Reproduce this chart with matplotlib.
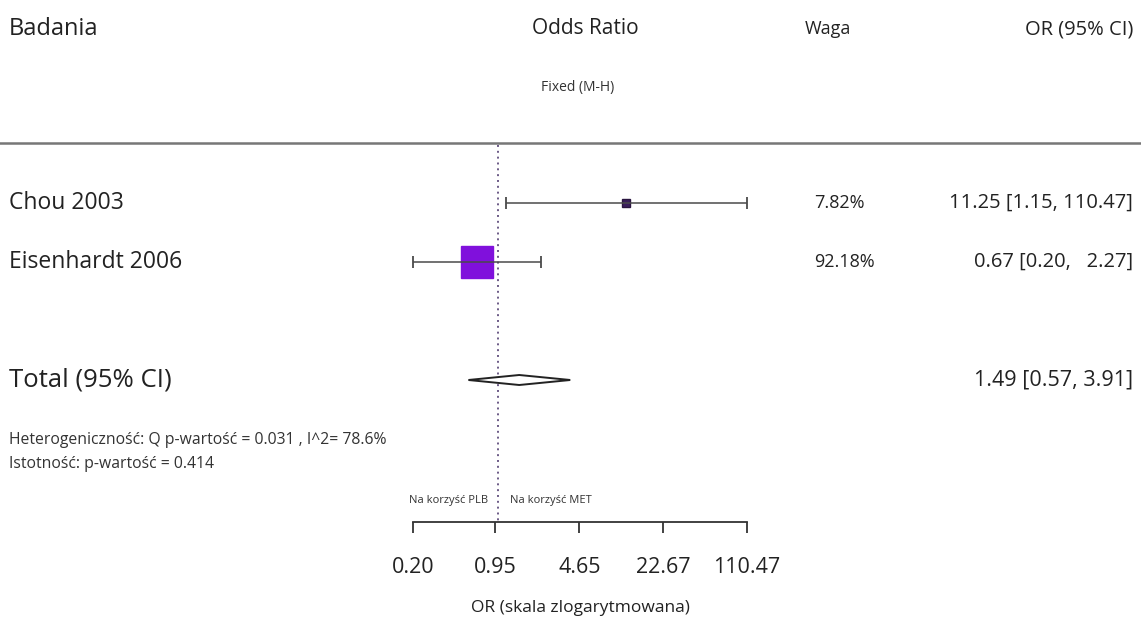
import matplotlib
matplotlib.use("Agg")
import matplotlib.pyplot as plt
from matplotlib.patches import Polygon
from matplotlib.lines import Line2D
from matplotlib.ticker import FixedLocator, NullLocator, FixedFormatter

# ---------------- data ----------------
studies = ["Chou 2003", "Eisenhardt 2006"]
or_vals = [11.25, 0.67]
ci_low = [1.15, 0.20]
ci_high = [110.47, 2.27]
weights = [7.82, 92.18]
or_text = ["11.25 [1.15, 110.47]", "0.67 [0.20,   2.27]"]

total_label = "Total (95% CI)"
total_or = 1.49
total_low = 0.57
total_high = 3.91
total_text = "1.49 [0.57, 3.91]"

tick_vals = [0.20, 0.95, 4.65, 22.67, 110.47]
tick_labels = ["0.20", "0.95", "4.65", "22.67", "110.47"]

heterogeneity = "Heterogeniczność: Q p-wartość = 0.031 , I^2= 78.6%"
significance = "Istotność: p-wartość = 0.414"

# ---------------- layout ----------------
W, H = 1141, 621
plt.rcParams['font.family'] = ['Open Sans', 'DejaVu Sans']
fig = plt.figure(figsize=(W / 100, H / 100), dpi=100)
fig.patch.set_facecolor("white")


def fx(x):
    return x / W


def fy(y):
    return 1 - y / H


TXT = "#222222"
x_left, x_right = 413, 747
ax = fig.add_axes([fx(x_left), 0, fx(x_right - x_left), 1])
ax.set_xscale("log")
ax.set_xlim(tick_vals[0], tick_vals[-1])
ax.set_ylim(H, 0)
ax.axis("off")

row_y = [203, 262]
total_y = 380
rule_y = 143
axis_y = 522
LEFT = 9

# header
fig.text(fx(LEFT), fy(29), "Badania", fontsize=17, color=TXT, va="center", ha="left")
fig.text(fx(585), fy(29), "Odds Ratio", fontsize=15, color=TXT, va="center", ha="center")
fig.text(fx(578), fy(87), "Fixed (M-H)", fontsize=10, color="#333333", va="center", ha="center")
fig.text(fx(828), fy(29), "Waga", fontsize=13, color=TXT, va="center", ha="center")
fig.text(fx(1133), fy(29), "OR (95% CI)", fontsize=14.5, color=TXT, va="center", ha="right")

fig.add_artist(Line2D([fx(0), fx(1141)], [fy(rule_y), fy(rule_y)],
                      transform=fig.transFigure, color="#777777", lw=1.8))

# reference line at OR = 1
ax.plot([1, 1], [rule_y + 2, axis_y], ls=(0, (1, 2)), color="#6b5a86", lw=1.4, zorder=1)

# studies
for i, name in enumerate(studies):
    y = row_y[i]
    size = 23.5 * (weights[i] / max(weights)) ** 0.62
    ax.plot(or_vals[i], y, marker="s", ms=size,
            color="#8010dc" if i else "#3a1d5c",
            mec="#8010dc" if i else "#2a1540",
            zorder=2, clip_on=False)
    ax.errorbar([or_vals[i]], [y], xerr=[[or_vals[i] - ci_low[i]], [ci_high[i] - or_vals[i]]],
                fmt="none", ecolor="#4a4a4a", elinewidth=1.1, capsize=4, capthick=1.3,
                zorder=3, clip_on=False)
    fig.text(fx(LEFT), fy(y), name, fontsize=16.5, color=TXT, va="center", ha="left")
    fig.text(fx(814), fy(y), f"{weights[i]:.2f}%", fontsize=13, color=TXT, va="center", ha="left")
    fig.text(fx(1133), fy(y), or_text[i], fontsize=14.5, color=TXT, va="center", ha="right")

# total diamond
dh = 5
diamond = Polygon([(total_low, total_y), (total_or, total_y - dh), (total_high, total_y),
                   (total_or, total_y + dh)], closed=True, facecolor="white",
                  edgecolor="#222222", lw=1.4, zorder=4)
ax.add_patch(diamond)
fig.text(fx(LEFT), fy(total_y), total_label, fontsize=18.5, color=TXT, va="center", ha="left")
fig.text(fx(1133), fy(total_y), total_text, fontsize=15.5, color=TXT, va="center", ha="right")

fig.text(fx(LEFT), fy(440), heterogeneity, fontsize=11.3, color="#333333", va="center", ha="left")
fig.text(fx(LEFT), fy(464), significance, fontsize=11.3, color="#333333", va="center", ha="left")

fig.text(fx(488), fy(501), "Na korzyść PLB", fontsize=8, color="#333333", va="center", ha="right")
fig.text(fx(510), fy(501), "Na korzyść MET", fontsize=8, color="#333333", va="center", ha="left")

# bottom axis
ax2 = fig.add_axes([fx(x_left), fy(axis_y), fx(x_right - x_left), 0.001])
ax2.set_xscale("log")
ax2.set_xlim(tick_vals[0], tick_vals[-1])
ax2.set_yticks([])
for s in ["top", "left", "right"]:
    ax2.spines[s].set_visible(False)
ax2.spines["bottom"].set_color("#333333")
ax2.spines["bottom"].set_linewidth(1.3)
ax2.xaxis.set_major_locator(FixedLocator(tick_vals))
ax2.xaxis.set_major_formatter(FixedFormatter(tick_labels))
ax2.xaxis.set_minor_locator(NullLocator())
ax2.tick_params(axis="x", direction="out", length=8, width=1.3, color="#333333",
                labelsize=15.5, labelcolor=TXT, pad=17)
ax2.set_facecolor("none")
ax2.set_xlabel("OR (skala zlogarytmowana)", fontsize=12.5, color=TXT, labelpad=16)

fig.savefig("out.png", dpi=100, facecolor="white")
